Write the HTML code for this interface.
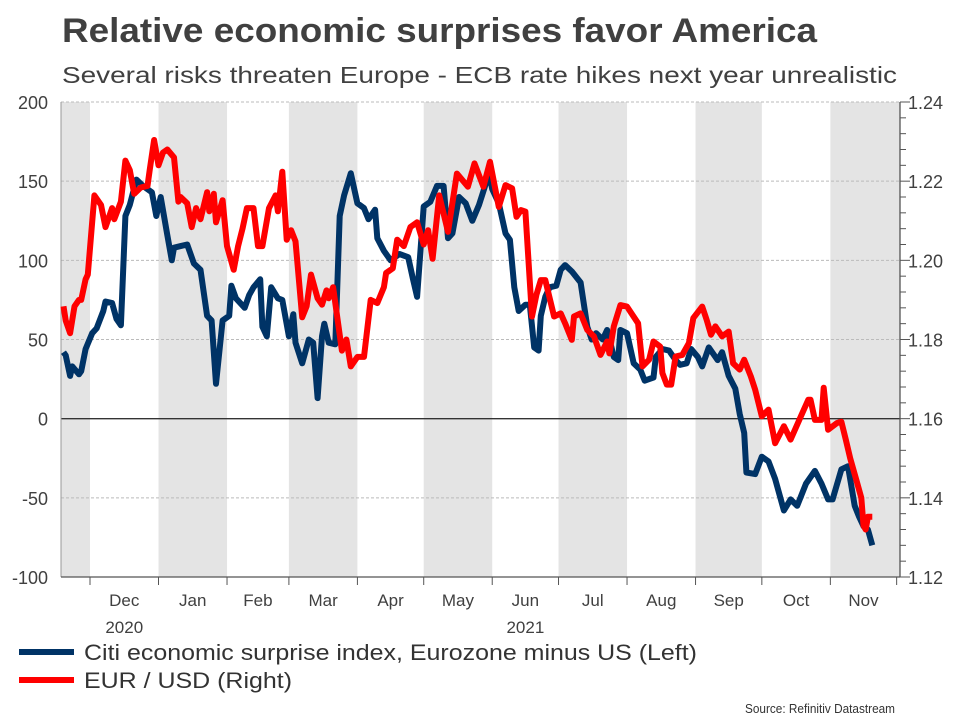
<!DOCTYPE html>
<html><head><meta charset="utf-8"><style>
body{margin:0;background:#fff;width:960px;height:720px;overflow:hidden;font-family:"Liberation Sans",Arial,sans-serif}
</style></head><body>
<svg id="chart" width="960" height="720" xmlns="http://www.w3.org/2000/svg">
<text x="62" y="42" font-size="34" font-weight="bold" fill="#404040" textLength="755" lengthAdjust="spacingAndGlyphs">Relative economic surprises favor America</text>
<text x="62" y="83" font-size="23" fill="#404040" textLength="835" lengthAdjust="spacingAndGlyphs">Several risks threaten Europe - ECB rate hikes next year unrealistic</text>
<g id="bands"></g><g id="grid"></g><g id="axes"></g><g id="series"></g>
<g>
<line x1="19" y1="652" x2="74" y2="652" stroke="#003366" stroke-width="6"/>
<text x="84" y="660" font-size="22" fill="#333" textLength="613" lengthAdjust="spacingAndGlyphs">Citi economic surprise index, Eurozone minus US (Left)</text>
<line x1="19" y1="680" x2="74" y2="680" stroke="#ff0000" stroke-width="6"/>
<text x="84" y="688" font-size="22" fill="#333" textLength="208" lengthAdjust="spacingAndGlyphs">EUR / USD (Right)</text>
</g>
<text x="895" y="713" font-size="13" fill="#333" text-anchor="end" textLength="150" lengthAdjust="spacingAndGlyphs">Source: Refinitiv Datastream</text>
</svg>
<script>
const monthLabels=["Dec","Jan","Feb","Mar","Apr","May","Jun","Jul","Aug","Sep","Oct","Nov"];
const monthStarts=[0,31,62,90,121,151,182,212,243,274,304,335,365];
const leftTicks=[200,150,100,50,0,-50,-100];
const rightTicks=["1.24","1.22","1.20","1.18","1.16","1.14","1.12"];
const surpriseDays=[-12,-11,-9,-8,-5,-4,-2,1,3,6,7,10,12,14,16,18,21,24,28,30,32,35,37,38,41,44,47,50,53,55,57,60,63,64,66,70,72,74,77,78,80,82,85,87,90,92,93,96,99,101,103,105,106,108,111,113,115,118,121,124,126,129,130,133,136,140,144,146,148,151,154,157,160,162,164,167,170,173,176,179,181,182,185,188,190,192,194,197,199,201,203,204,206,208,211,213,215,218,222,225,227,229,232,234,237,239,240,243,246,249,251,255,256,259,262,265,267,270,272,275,277,280,284,286,289,292,294,296,297,301,304,307,310,314,317,320,324,328,331,334,336,340,343,346,348,350,352,354];
const surpriseValues=[42,40,27,33,28,30,44,54,57,68,74,73,63,59,128,135,151,147,143,128,140,116,100,108,109,110,98,94,65,62,22,62,65,84,76,70,78,83,88,58,52,83,76,75,52,66,48,35,50,48,13,52,60,48,47,128,141,155,136,133,126,132,114,106,100,104,102,89,77,134,137,147,147,114,117,140,136,125,135,148,152,145,136,117,113,83,68,72,72,45,43,65,77,83,84,94,97,93,86,58,50,54,50,56,39,37,56,54,35,31,24,26,39,44,43,37,34,35,44,39,33,45,37,42,27,19,3,-9,-34,-35,-24,-27,-38,-58,-51,-55,-41,-33,-41,-51,-51,-32,-30,-55,-62,-68,-70,-80];
const eurDays=[-12,-11,-9,-7,-5,-4,-2,-1,2,5,7,10,11,14,16,18,20,23,26,27,29,31,33,35,38,40,41,44,46,48,50,53,54,56,57,60,62,65,67,69,71,74,76,78,81,84,85,87,89,91,93,96,98,100,103,105,107,108,110,114,116,118,121,124,127,130,133,134,137,139,142,145,148,151,153,155,158,162,166,171,174,178,181,185,188,191,193,195,197,200,202,204,206,210,213,215,218,219,222,225,228,231,234,235,237,240,243,248,250,253,255,258,259,261,263,265,268,271,273,277,279,281,283,286,289,291,294,296,299,301,304,307,310,314,317,322,325,326,328,331,332,334,338,340,342,344,347,349,350,351,352,354];
const eurValues=[1.1884,1.1848,1.1816,1.1884,1.19,1.19,1.1952,1.1964,1.2164,1.214,1.2084,1.2132,1.2104,1.2148,1.2252,1.2228,1.2168,1.2184,1.2188,1.2228,1.2304,1.224,1.2272,1.228,1.226,1.2148,1.216,1.2144,1.2084,1.2132,1.2104,1.2172,1.2124,1.2168,1.2096,1.2152,1.2036,1.1976,1.2036,1.208,1.2132,1.2132,1.2036,1.2036,1.2132,1.2164,1.2124,1.2224,1.2052,1.2076,1.2048,1.1856,1.1884,1.1964,1.1904,1.1888,1.1924,1.1904,1.1932,1.1772,1.18,1.1732,1.1756,1.1756,1.19,1.1892,1.1932,1.1968,1.198,1.2052,1.2036,1.2084,1.2096,1.204,1.2076,1.2004,1.2164,1.2072,1.2219,1.2186,1.2245,1.2186,1.2249,1.2135,1.219,1.2182,1.211,1.2127,1.2123,1.1858,1.1913,1.195,1.195,1.1858,1.1866,1.1841,1.1799,1.1858,1.1866,1.1824,1.1808,1.1761,1.1795,1.1765,1.1833,1.1887,1.1883,1.1841,1.1732,1.1749,1.1795,1.1782,1.1715,1.1686,1.1686,1.1757,1.1761,1.1791,1.1854,1.1883,1.185,1.1812,1.1833,1.1808,1.182,1.174,1.1724,1.1749,1.1707,1.1673,1.1606,1.1623,1.1538,1.1581,1.1547,1.161,1.1648,1.1648,1.1597,1.1597,1.1678,1.1572,1.1589,1.1592,1.1547,1.15,1.144,1.14,1.133,1.132,1.1352,1.1352];

const NS="http://www.w3.org/2000/svg";
const PL=61,PR=900,PT=102,PB=577;
const xS=d=>90+d*2.21;
const yL=v=>PT+(200-v)/300*(PB-PT);
const yR=v=>PT+(1.24-v)/0.12*(PB-PT);
function mk(tag,attrs,parent){const e=document.createElementNS(NS,tag);for(const k in attrs)e.setAttribute(k,attrs[k]);document.getElementById(parent).appendChild(e);return e;}

const edges=[PL].concat(monthStarts.map(xS).slice(0,12)).concat([PR]);
for(let i=0;i<edges.length-1;i++){
  if(i%2===0){
    const r=mk('rect',{x:edges[i],y:PT,width:edges[i+1]-edges[i],height:PB-PT,fill:'#e4e4e4'},'bands');
    
    
  }
}
leftTicks.forEach((t,i)=>{
  const y=yL(t);
  if(t!==0&&t!==-100){
    const g=mk('line',{x1:PL,x2:PR,y1:y,y2:y,stroke:'#bbb','stroke-width':1,'stroke-dasharray':'3,2'},'grid');
    
    
  }
  const tx=mk('text',{x:48,y:y+7,'font-size':18,fill:'#404040','text-anchor':'end'},'axes');
  tx.textContent=t;
  
  
  const rt=mk('text',{x:908,y:y+7,'font-size':18,fill:'#404040'},'axes');
  rt.textContent=rightTicks[i];
  
  
});
const z=mk('line',{x1:PL,x2:PR,y1:yL(0),y2:yL(0),stroke:'#333','stroke-width':1.3},'grid');


const la=mk('line',{x1:PL,x2:PL,y1:PT,y2:PB,stroke:'#999','stroke-width':1},'axes');


const ra=mk('line',{x1:PR,x2:PR,y1:PT,y2:PB,stroke:'#555','stroke-width':1.3},'axes');


const ba=mk('line',{x1:PL,x2:PR,y1:PB,y2:PB,stroke:'#555','stroke-width':1.3},'axes');


for(let k=0;k<=30;k++){
  const v=1.12+k*0.004,y=yR(v);
  const tk=mk('line',{x1:PR,x2:PR+(k%5===0?10:6),y1:y,y2:y,stroke:'#555','stroke-width':1},'axes');
  
  
}
monthStarts.forEach((d,i)=>{
  const x=xS(d);
  const tk=mk('line',{x1:x,x2:x,y1:PB,y2:PB+8,stroke:'#555','stroke-width':1},'axes');
  
  
  if(i<12){
    const mx=(x+xS(monthStarts[i+1]))/2;
    const t=mk('text',{x:mx,y:606,'font-size':17,fill:'#404040','text-anchor':'middle'},'axes');
    t.textContent=monthLabels[i];
    
    
  }
});
[["2020",0],["2021",6]].forEach(([lab,i])=>{
  const mx=(xS(monthStarts[i])+xS(monthStarts[i+1]))/2;
  const t=mk('text',{x:mx,y:633,'font-size':17,fill:'#404040','text-anchor':'middle'},'axes');
  t.textContent=lab;
  
  
});
const pb=mk('polyline',{points:surpriseDays.map((d,i)=>xS(d).toFixed(1)+','+yL(surpriseValues[i]).toFixed(1)).join(' '),fill:'none',stroke:'#003366','stroke-width':6,'stroke-linejoin':'round'},'series');


const pr=mk('polyline',{points:eurDays.map((d,i)=>xS(d).toFixed(1)+','+yR(eurValues[i]).toFixed(1)).join(' '),fill:'none',stroke:'#ff0000','stroke-width':6,'stroke-linejoin':'round'},'series');


</script>
</body></html>
